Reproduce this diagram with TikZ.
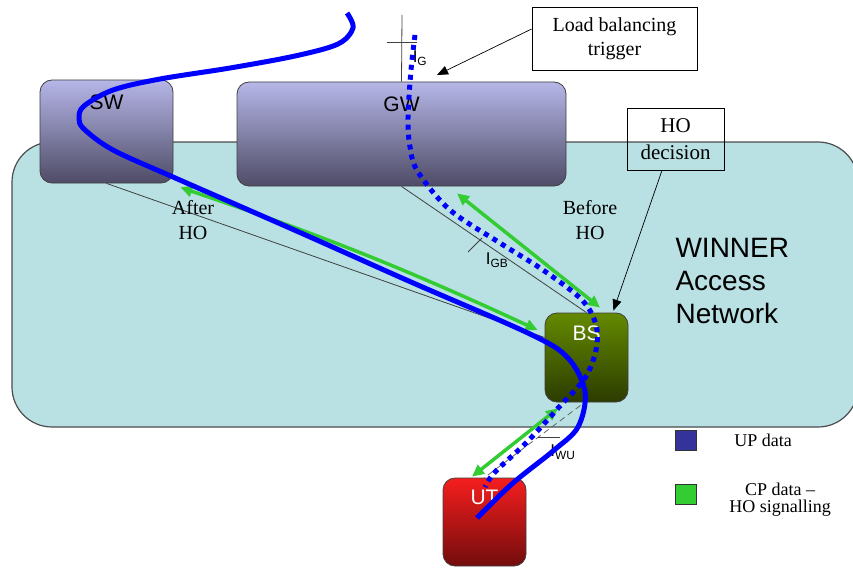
\documentclass[tikz,border=0pt]{standalone}
\usepackage{fontspec}
\setmainfont{Liberation Serif}
\setsansfont{Liberation Sans}
\usetikzlibrary{arrows.meta}
\definecolor{netcyan}{RGB}{185,224,227}
\definecolor{boxtop}{RGB}{182,182,232}
\definecolor{boxbottom}{RGB}{78,76,102}
\definecolor{bstop}{RGB}{100,138,0}
\definecolor{bsbottom}{RGB}{44,60,0}
\definecolor{uttop}{RGB}{245,30,30}
\definecolor{utbottom}{RGB}{115,12,12}
\definecolor{cpgreen}{RGB}{51,204,51}
\definecolor{upblue}{RGB}{0,0,255}
\definecolor{upnavy}{RGB}{51,51,153}
\begin{document}
\begin{tikzpicture}[x=1pt, y=-1pt,
	net style/.style={draw=black!70, fill=netcyan, rounded corners=40pt, line width=1.2pt},
	core style/.style={draw=black!75, line width=0.8pt, rounded corners=12pt, top color=boxtop, bottom color=boxbottom},
	bs style/.style={draw=black!75, line width=0.8pt, rounded corners=12pt, top color=bstop, bottom color=bsbottom},
	ut style/.style={draw=black!75, line width=0.8pt, rounded corners=12pt, top color=uttop, bottom color=utbottom},
	name style/.style={anchor=center, font=\sffamily\fontsize{21}{24}\selectfont},
	note style/.style={draw, line width=0.8pt, align=center, font=\fontsize{20}{24}\selectfont},
	note arrow/.style={line width=0.7pt, -{Triangle[length=11pt,width=9pt]}},
	if style/.style={draw=black!75, line width=0.8pt},
	if label/.style={font=\sffamily\fontsize{17}{20}\selectfont, inner sep=1pt},
	ho label/.style={align=center, font=\fontsize{20}{25}\selectfont},
	cp style/.style={cpgreen, line width=3.5pt, {Triangle[length=12pt,width=11pt]}-{Triangle[length=12pt,width=11pt]}},
	up style/.style={upblue, line width=5pt},
	key style/.style={draw=black!80, line width=0.8pt, minimum width=21pt, minimum height=20pt, inner sep=0pt},
	key text/.style={align=center, font=\fontsize{18}{17}\selectfont}]
	\useasboundingbox (0,0) rectangle (853,567);
	\clip (0,0) rectangle (853,567);
	\draw[net style] (12,142) rectangle (858,427);
	\node[core style, minimum width=133pt, minimum height=103pt, label={[name style, yshift=-23pt]above:SW}] (S1) at (106.5,131.5) {};
	\node[core style, minimum width=329pt, minimum height=104pt, label={[name style, yshift=-23pt]above:GW}] (S2) at (401.5,134) {};
	\node[bs style, minimum width=83pt, minimum height=89pt, label={[name style, white, yshift=-21pt]above:BS}] (S3) at (586.5,357.5) {};
	\node[ut style, minimum width=83pt, minimum height=88pt, label={[name style, white, yshift=-20pt]above:UT}] (S4) at (484.5,522) {};
	\node[note style, fill=white, minimum width=165pt, minimum height=63pt] (T1) at (614.5,38.5) {Load balancing\\trigger};
	\node[note style, minimum width=97pt, minimum height=62pt, font=\fontsize{21}{27}\selectfont] (T2) at (675.5,139) {HO\\decision};
	\node[anchor=west, align=left, font=\sffamily\fontsize{28}{33}\selectfont] (W1) at (672,281) {WINNER\\Access\\Network};
	\coordinate (C1) at (437,75);
	\coordinate (C2) at (402,15);
	\draw[note arrow] ([yshift=9.5pt]T1.west) -- (C1);
	\draw[note arrow] ([xshift=-13.5pt]T2.south) -- ([xshift=-15pt, yshift=2pt]S3.north east);
	\draw[if style] (C2) -- (S2.north);
	\draw[if style] (S2.south) -- (S3.north);
	\draw[if style] (S1.south) -- ([yshift=20pt]S3.west);
	\draw[if style, draw=black!60, dash pattern=on 6pt off 4pt] ([xshift=-6pt, yshift=-3pt]S3.south) -- (S4.north);
	\draw[if style] (387,42) -- (417,42);
	\draw[if style] (468,252) -- (482,238);
	\draw[if style] (538,437) -- (560,437);
	\node[if label] (L1) at (420,58) {I\textsubscript{G}};
	\node[if label] (L2) at (497,260) {I\textsubscript{GB}};
	\node[if label] (L3) at (563,452) {I\textsubscript{WU}};
	\node[ho label] (H1) at (193,220) {After\\HO};
	\node[ho label] (H2) at (590,220) {Before\\HO};
	\draw[cp style] ([shift={(55.5,7)}]S2.south) -- ([shift={(13.5,-5)}]S3.north);
	\draw[cp style] ([shift={(7,4)}]S1.south east) to[bend left=3] ([shift={(-7,-27.5)}]S3.west);
	\draw[cp style] ([shift={(-12.5,-1)}]S4.north) -- ([shift={(-28.5,6)}]S3.south);
	\draw[up style] plot[smooth, tension=0.55] coordinates {(347,13) (353,28) (338,44) (295,56) (230,68) (160,79) (113,90) (84,106) (79,118) (84,129) (113,150) (173,177) (292,229) (411,282) (530,334) (568,358) (585,392) (578,427) (553,451) (513,483) (477,518)};
	\draw[up style, dash pattern=on 5pt off 5pt] plot[smooth, tension=0.55] coordinates {(415,35) (411,70) (408,117) (410,147) (418,172) (450,210) (500,243) (543,270) (582,300) (596,325) (596,350) (585,378) (560,406) (527,442) (495,472) (485,487)};
	\node[key style, fill=upnavy] (K1) at (686,440) {};
	\node[key style, fill=cpgreen] (K2) at (686,494) {};
	\node[key text] (K3) at (763,440) {UP data};
	\node[key text] (K4) at (780,500) {CP data --\\HO signalling};
\end{tikzpicture}
\end{document}
